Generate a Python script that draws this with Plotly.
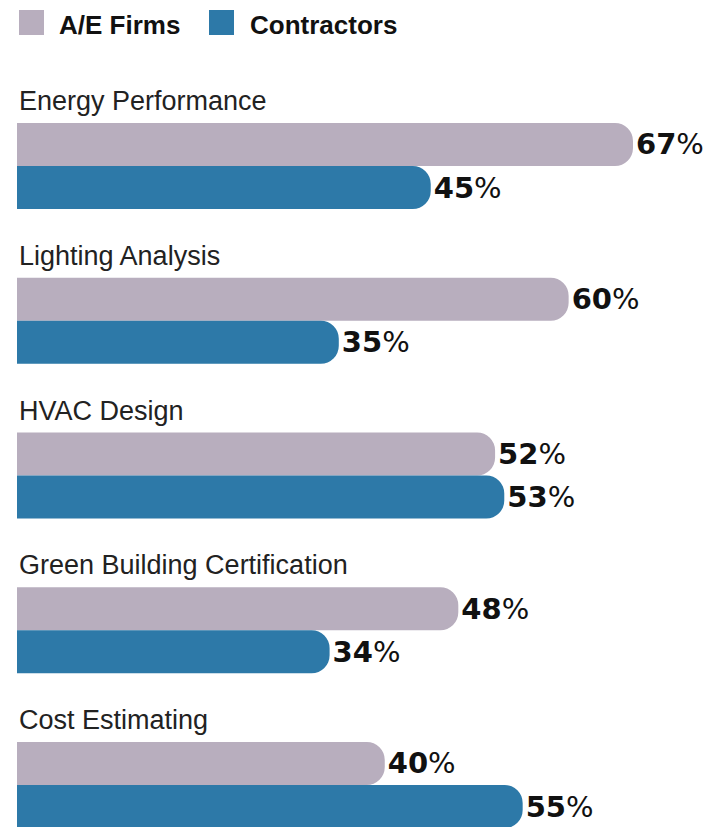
import plotly.graph_objects as go

categories = ["Energy Performance", "Lighting Analysis", "HVAC Design",
              "Green Building Certification", "Cost Estimating"]
ae_firms = [67, 60, 52, 48, 40]
contractors = [45, 35, 53, 34, 55]
series_names = ["A/E Firms", "Contractors"]
colors = ["#b8aebe", "#2d79a8"]

PAD = 3  # bars start slightly left of the axis so only the right end is rounded

OFF = 8  # default page body margin
W, H = 711 - OFF, 827 - OFF
ML, MR, MT, MB = 17 - OFF, 0, 60 - OFF, 0
PW, PH = W - ML - MR, H - MT - MB
px_per_unit = 9.194
xmax = PW / px_per_unit
pitch = 154.75
y_top = -(166 - 60) / pitch
y_bot = 4 + (827 - 785) / pitch


def px(ax):  # absolute page x -> paper x
    return (ax - OFF - ML) / PW


def py(ay):  # absolute page y -> paper y
    return 1 - (ay - OFF - MT) / PH


def lab(v):
    return f"<b>{v}</b><span style='font-weight:normal'>%</span>"


fig = go.Figure()
for name, vals, col in zip(series_names, [ae_firms, contractors], colors):
    fig.add_trace(go.Bar(
        y=categories, x=[v + PAD for v in vals], base=-PAD,
        orientation="h", name=name,
        marker=dict(color=col, line=dict(width=0), cornerradius=18),
        text=[lab(v) for v in vals], textposition="outside",
        textfont=dict(family="DejaVu Sans", size=29, color="#111"),
        constraintext="none", cliponaxis=False, showlegend=False, hoverinfo="skip",
    ))

# category labels above each pair of bars
for c in categories:
    fig.add_annotation(
        x=0, xref="paper", y=c, yref="y", xanchor="left", yanchor="middle",
        yshift=65, text=c, showarrow=False,
        font=dict(family="Liberation Sans", size=27, color="#222"),
    )

# legend (swatch + label)
legend_pos = [(19, 57), (209, 248)]
for (sx, tx), name, col in zip(legend_pos, series_names, colors):
    fig.add_shape(type="rect", xref="paper", yref="paper",
                  x0=px(sx), x1=px(sx + 25), y0=py(35), y1=py(10),
                  fillcolor=col, line=dict(width=0))
    fig.add_annotation(x=px(tx), y=py(25), xref="paper", yref="paper",
                       xanchor="left", yanchor="middle", text=f"<b>{name}</b>",
                       showarrow=False,
                       font=dict(family="Liberation Sans", size=26, color="#111"))

fig.update_layout(
    width=W, height=H, margin=dict(l=ML, r=MR, t=MT, b=MB),
    paper_bgcolor="white", plot_bgcolor="white",
    barmode="group", bargap=0.444, bargroupgap=0,
    xaxis=dict(range=[0, xmax], visible=False, fixedrange=True),
    yaxis=dict(range=[y_bot, y_top], visible=False, categoryorder="array",
               categoryarray=categories, fixedrange=True),
    showlegend=False,
)

fig.write_html("out.html")
